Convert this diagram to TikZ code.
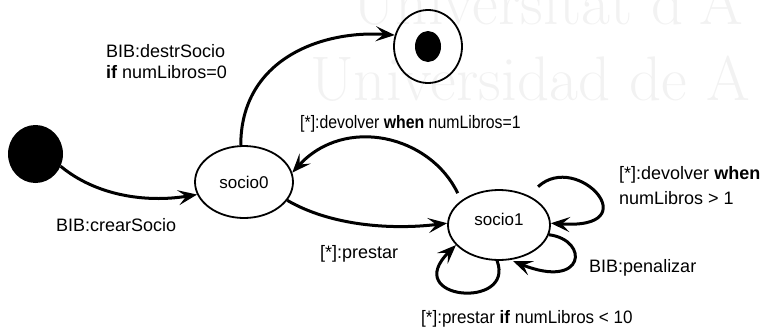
\documentclass[tikz,border=0pt]{standalone}
\usepackage{graphicx}
\usepackage{fontspec}
\setsansfont{Liberation Sans}
\usetikzlibrary{arrows.meta,shapes.geometric}

\begin{document}
\begin{tikzpicture}[x=1pt,y=-1pt,
  lbl/.style={font=\sffamily\fontsize{18}{21}\selectfont, inner sep=0pt},
  state/.style={ellipse, draw, line width=1.8pt, inner sep=0pt,
                font=\sffamily\fontsize{17}{21}\selectfont},
  blob/.style={ellipse, fill=black, inner sep=0pt},
  tr/.style={line width=3pt, -{Stealth[length=19pt,width=15pt,inset=8pt]}},
  wm/.style={font=\fontsize{63}{63}\selectfont, text=black!5, inner sep=0pt, anchor=base west}]
\useasboundingbox (0,0) rectangle (769,335);

% faint background lettering
\begin{scope}
  \clip (0,0) rectangle (769,335);
  \node[wm] (wm1) at (352,24) {Universitat d'A};
  \node[wm] (wm2) at (310,100) {Universidad de A};
\end{scope}

% states
\node[blob, minimum width=55pt, minimum height=58pt] (init) at (35.5,154) {};
\node[state, minimum width=98pt, minimum height=72pt] (s0) at (244,182) {socio0};
\node[state, minimum width=102pt, minimum height=70pt, text depth=12pt] (s1) at (499,225) {socio1};
\node[ellipse, draw, line width=1.8pt, minimum width=68pt, minimum height=73pt, inner sep=0pt] (fin) at (428,46.5) {};
\node[blob, minimum width=26pt, minimum height=31pt] (findot) at (fin.center) {};

% transitions
\draw[tr] (init.-26) .. controls +(35,29) and +(-52,8.5) .. (s0.195);
\draw[tr] (s0.95) .. controls +(0,-85) and +(-75,-5) .. (fin.161);
\draw[tr, shorten <=8pt] (s1.147) .. controls +(-31,-65) and +(52.6,-57.6) .. (s0.11);
\draw[tr] (s0.-23) .. controls +(43,25) and +(-57,7) .. (s1.178);
\draw[tr, shorten <=13pt] (s1.45) .. controls +(49,-45) and +(99,7) .. (s1.2);
\draw[tr, shorten >=3pt] (s1.-11) .. controls +(41,5.5) and +(74.6,29.9) .. (s1.-72);
\draw[tr] (s1.-93) .. controls +(18,49) and +(-56,55) .. (s1.205);

% transition labels
\node[lbl, anchor=north west, align=left] (l1) at (106,44.1) {BIB:destrSocio\\\textbf{if} numLibros=0};
\node[lbl, anchor=base west] (l2) at (300,128) {\scalebox{0.88}[1]{[*]:devolver \textbf{when} numLibros=1}};
\node[lbl, anchor=north west, align=left] (l3) at (619,165.9) {[*]:devolver \textbf{when}\\[4pt]numLibros > 1};
\node[lbl, anchor=base west] (l4) at (589,272) {BIB:penalizar};
\node[lbl, anchor=base west] (l5) at (421,323) {\scalebox{0.945}[1]{[*]:prestar \textbf{if} numLibros < 10}};
\node[lbl, anchor=base west] (l6) at (320,258) {[*]:prestar};
\node[lbl, anchor=base west] (l7) at (56,231) {BIB:crearSocio};
\end{tikzpicture}
\end{document}
